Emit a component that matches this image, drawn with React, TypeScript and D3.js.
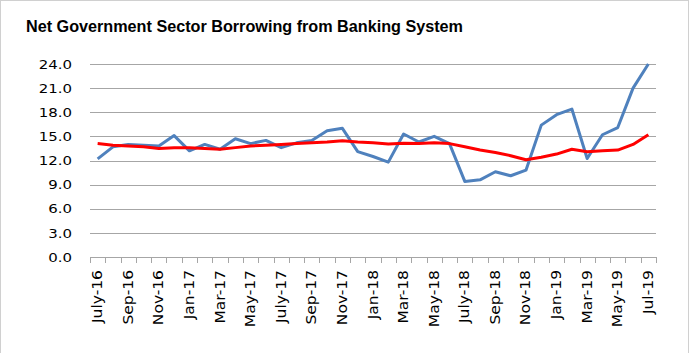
import React from "react";
import * as d3 from "d3";

const months: string[] = [
  "July-16", "Aug-16", "Sep-16", "Oct-16", "Nov-16", "Dec-16",
  "Jan-17", "Feb-17", "Mar-17", "Apr-17", "May-17", "Jun-17",
  "July-17", "Aug-17", "Sep-17", "Oct-17", "Nov-17", "Dec-17",
  "Jan-18", "Feb-18", "Mar-18", "Apr-18", "May-18", "Jun-18",
  "July-18", "Aug-18", "Sep-18", "Oct-18", "Nov-18", "Dec-18",
  "Jan-19", "Feb-19", "Mar-19", "Apr-19", "May-19", "Jun-19",
  "Jul-19",
];

const borrowing: number[] = [
  12.2, 13.7, 14.0, 13.9, 13.8, 15.1,
  13.2, 14.0, 13.4, 14.7, 14.1, 14.5,
  13.6, 14.2, 14.5, 15.7, 16.0, 13.1,
  12.5, 11.8, 15.3, 14.3, 15.0, 14.1,
  9.4, 9.6, 10.6, 10.1, 10.8, 16.4,
  17.7, 18.4, 12.25, 15.2, 16.1, 21.0,
  24.0,
];

const trend: number[] = [
  14.1, 13.9, 13.8, 13.7, 13.5, 13.6,
  13.6, 13.5, 13.4, 13.6, 13.8, 13.9,
  14.0, 14.1, 14.2, 14.3, 14.45, 14.3,
  14.2, 14.05, 14.15, 14.1, 14.2, 14.1,
  13.7, 13.3, 13.0, 12.6, 12.1, 12.4,
  12.8, 13.4, 13.1, 13.2, 13.3, 14.0,
  15.2,
];

const yTicks: number[] = [0, 3, 6, 9, 12, 15, 18, 21, 24];

const title = "Net Government Sector Borrowing from Banking System";

export default function App() {
  const W = 691;
  const H = 353;
  const x = d3.scaleBand<string>().domain(months).range([90, 656]);
  const y = d3.scaleLinear().domain([0, 24]).range([257, 64]);
  const bw = x.bandwidth();
  const cx = (m: string) => (x(m) as number) + bw / 2;

  const line = d3
    .line<number>()
    .x((_, i) => cx(months[i]))
    .y((d) => y(d));

  const tickPositions = months.map((m) => x(m) as number).concat([656]);
  const font = "'DejaVu Sans', sans-serif";

  return (
    <svg
      width={W}
      height={H}
      style={{ position: "absolute", left: 0, top: 0, display: "block", background: "#fff" }}
    >
      <rect x={0.5} y={0.5} width={W - 3} height={H + 2} fill="#fff" stroke="#d0d0d0" />
      <text
        x={26}
        y={31.5}
        fontFamily="'Liberation Sans', Arial, sans-serif"
        fontWeight="bold"
        fontSize={16}
        textLength={437}
        lengthAdjust="spacingAndGlyphs"
        fill="#000"
      >
        {title}
      </text>

      {yTicks.slice(1).map((t) => (
        <line key={"g" + t} x1={90} x2={656} y1={Math.round(y(t)) + 0.5} y2={Math.round(y(t)) + 0.5} stroke="#a6a6a6" strokeWidth={1} />
      ))}
      <line x1={90} x2={656} y1={Math.round(y(0)) + 0.5} y2={Math.round(y(0)) + 0.5} stroke="#a6a6a6" strokeWidth={1} />
      {tickPositions.map((p, i) => (
        <line key={"t" + i} x1={Math.round(p) + 0.5} x2={Math.round(p) + 0.5} y1={Math.round(y(0))} y2={Math.round(y(0)) + 6} stroke="#a6a6a6" strokeWidth={1} />
      ))}

      {yTicks.map((t) => (
        <g key={"yl" + t} transform={`translate(72,${y(t)}) scale(1.15,1)`}>
          <text x={0} y={0} dy="0.36em" textAnchor="end" fontFamily={font} fontSize={13} fill="#000">
            {t.toFixed(1)}
          </text>
        </g>
      ))}

      {months.map((m, i) =>
        i % 2 === 0 ? (
          <g key={"xl" + m} transform={`translate(${cx(m) + 4.5},270) rotate(-90) scale(1.15,1)`}>
            <text x={0} y={0} textAnchor="end" fontFamily={font} fontSize={13.5} fill="#000">
              {m}
            </text>
          </g>
        ) : null
      )}

      <path d={line(borrowing) || ""} fill="none" stroke="#4f81bd" strokeWidth={3} strokeLinejoin="round" />
      <path d={line(trend) || ""} fill="none" stroke="#ff0000" strokeWidth={3} strokeLinejoin="round" />
    </svg>
  );
}
